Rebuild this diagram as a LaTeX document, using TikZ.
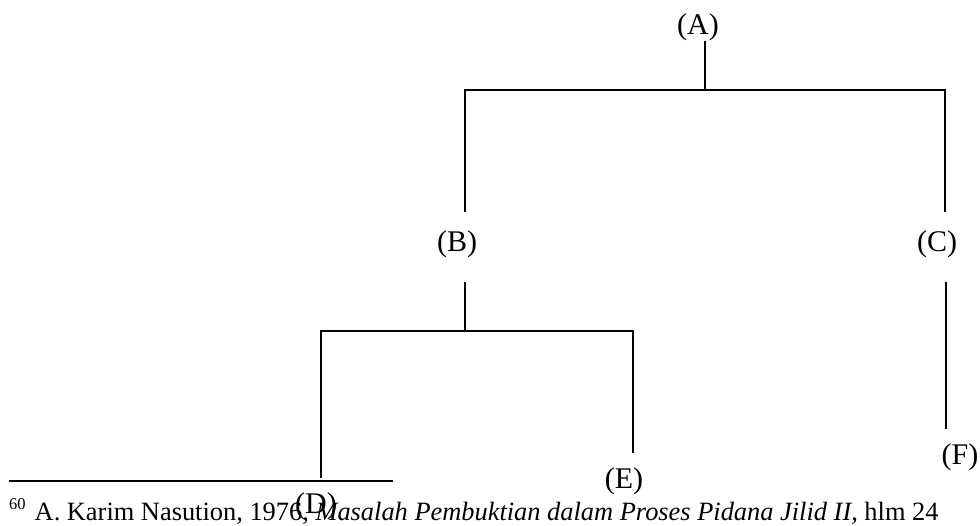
\documentclass[tikz,border=0pt]{standalone}
\usepackage{fontspec}
\setmainfont{Liberation Serif}
\begin{document}
\begin{tikzpicture}[x=1pt,y=-1pt,
  lbl/.style={font=\fontsize{30}{36}\selectfont, inner sep=0pt},
  tree/.style={line width=1.6pt, line cap=rect},
  rule/.style={line width=2.2pt}]
\useasboundingbox (0,0) rectangle (980,525);
% labels
\node[lbl] (A) at (698,27) {(A)};
\node[lbl] (B) at (457,244) {(B)};
\node[lbl] (C) at (937,244) {(C)};
\node[lbl] (D) at (316,506) {(D)};
\node[lbl] (E) at (624,481) {(E)};
\node[lbl] (F) at (960,457) {(F)};
% connector points
\coordinate (a0) at (705,42);
\coordinate (ab) at (705,90);
\coordinate (bl) at (465,90);
\coordinate (br) at (945,90);
\coordinate (b0) at (465,211);
\coordinate (c0) at (945,211);
\coordinate (b1) at (465,283);
\coordinate (bb) at (465,331);
\coordinate (dl) at (321,331);
\coordinate (dr) at (633,331);
\coordinate (d0) at (321,477);
\coordinate (e0) at (633,452);
\coordinate (c1) at (946,283);
\coordinate (f0) at (946,428);
% tree
\draw[tree] (a0) -- (ab);
\draw[tree] (b0) -- (bl) -- (br) -- (c0);
\draw[tree] (b1) -- (bb);
\draw[tree] (d0) -- (dl) -- (dr) -- (e0);
\draw[tree] (c1) -- (f0);
% footnote
\coordinate (fl) at (9,481);
\coordinate (fr) at (393,481);
\draw[rule] (fl) -- (fr);
\node[anchor=base west, inner sep=0pt] (fn) at (9,520)
  {\raisebox{11pt}{\fontsize{16.5}{16}\selectfont 60}\hspace{9pt}\fontsize{26.4}{30}\selectfont A. Karim Nasution, 1976, \textit{Masalah Pembuktian dalam Proses Pidana Jilid II}, hlm 24};
\end{tikzpicture}
\end{document}
